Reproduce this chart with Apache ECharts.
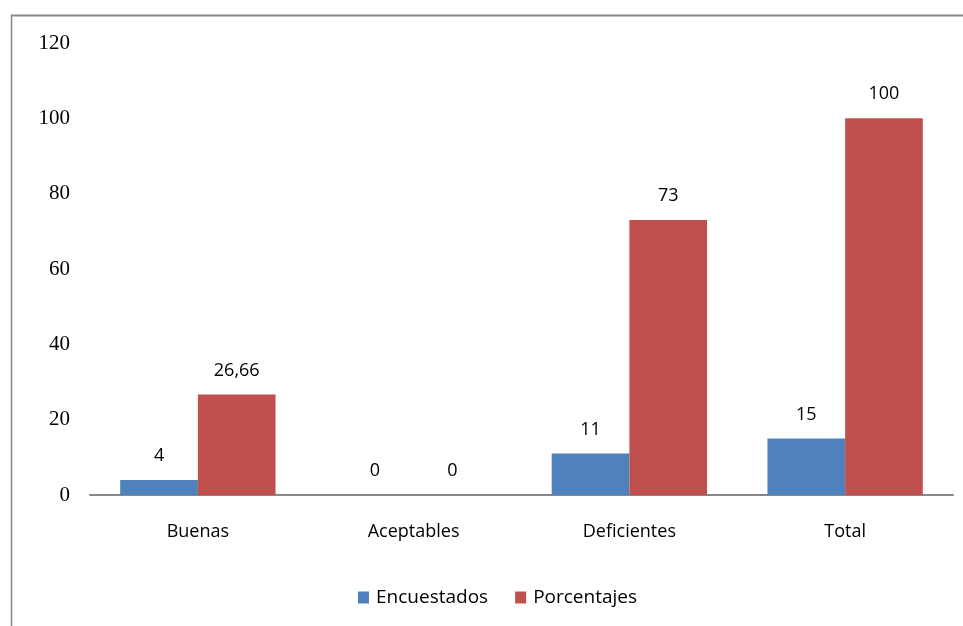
<!DOCTYPE html>
<html>
<head>
<meta charset="utf-8">
<style>
html,body{margin:0;padding:0;background:#fff;}
#c{width:963px;height:626px;}
</style>
<script src="https://cdn.jsdelivr.net/npm/echarts@6/dist/echarts.min.js"></script>
</head>
<body>
<div id="c"></div>
<script>
var categories = ['Buenas', 'Aceptables', 'Deficientes', 'Total'];
var encuestados = [4, 0, 11, 15];
var porcentajes = [26.66, 0, 73, 100];
var seriesNames = ['Encuestados', 'Porcentajes'];

var chart = echarts.init(document.getElementById('c'));
var fmt = function (p) { return String(p.value).replace('.', ','); };
var labelStyle = {
  show: true, position: 'top', distance: 15, formatter: fmt,
  color: '#000', fontFamily: 'Open Sans', fontSize: 18
};
chart.setOption({
  animation: false,
  graphic: [
    { type: 'line', shape: { x1: 11, y1: 15.5, x2: 963, y2: 15.5 }, style: { stroke: '#888', lineWidth: 2 } },
    { type: 'line', shape: { x1: 11.5, y1: 15, x2: 11.5, y2: 626 }, style: { stroke: '#888', lineWidth: 1.5 } }
  ],
  grid: { left: 90, right: 10, top: 43, bottom: 131 },
  legend: {
    bottom: 14, left: 353, itemWidth: 11, itemHeight: 12, itemGap: 27,
    icon: 'rect',
    textStyle: { fontFamily: 'Open Sans', fontSize: 19, color: '#000', padding: [0, 0, 0, 2] },
    data: seriesNames
  },
  xAxis: {
    type: 'category', data: categories,
    axisLine: { lineStyle: { color: '#888', width: 2 } },
    axisTick: { show: false },
    axisLabel: { margin: 28, color: '#000', fontFamily: 'Open Sans', fontSize: 18 }
  },
  yAxis: {
    type: 'value', min: 0, max: 120, interval: 20,
    axisLine: { show: false }, axisTick: { show: false },
    splitLine: { show: false },
    axisLabel: { margin: 20, color: '#000', fontFamily: 'Liberation Serif', fontSize: 21 }
  },
  series: [
    { name: seriesNames[0], type: 'bar', data: encuestados, itemStyle: { color: '#4F81BD' },
      barGap: '0%', barCategoryGap: '28%', label: labelStyle },
    { name: seriesNames[1], type: 'bar', data: porcentajes, itemStyle: { color: '#C0504D' },
      barGap: '0%', barCategoryGap: '28%', label: labelStyle }
  ]
});
</script>
</body>
</html>
